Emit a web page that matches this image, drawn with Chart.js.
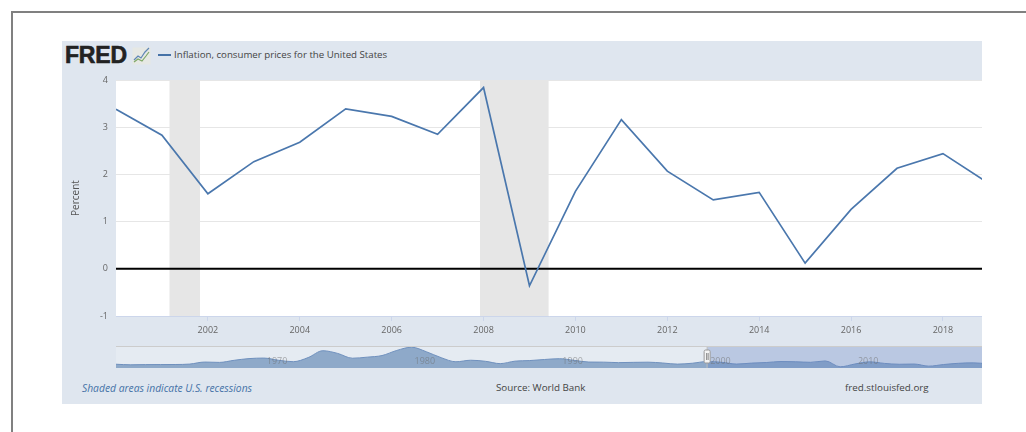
<!DOCTYPE html>
<html>
<head>
<meta charset="utf-8">
<script src="https://cdn.jsdelivr.net/npm/chart.js@4/dist/chart.umd.min.js"></script>
<style>
  html, body { margin: 0; padding: 0; background: #fff; width: 1026px; height: 432px; overflow: hidden; font-family: "Open Sans", sans-serif; }
  .abs { position: absolute; }
  #frame { left: 11px; top: 11px; right: -5px; bottom: -5px; border: 2px solid #808080; }
  #panel { left: 62px; top: 41px; width: 920px; height: 363px; background: #dfe6ef; }
  #logo { left: 65px; top: 42px; font: bold 23px "Liberation Sans", sans-serif; color: #222; -webkit-text-stroke: 0.6px #222; letter-spacing: -0.2px; }
  #icon { left: 132px; top: 47px; }
  #legendLine { left: 158px; top: 54px; width: 13px; height: 2px; background: #4572a7; }
  #legendText { left: 174px; top: 48px; font-size: 9.7px; line-height: 14px; color: #444; white-space: nowrap; }
  #mainWrap { left: 62px; top: 41px; width: 920px; height: 300px; }
  #navWrap { left: 116px; top: 346px; width: 866px; height: 22px; }
  #navTop { left: 116px; top: 346px; width: 866px; height: 1px; background: #ccc; }
  .foot { top: 381px; font-size: 9.8px; line-height: 14px; color: #444; white-space: nowrap; }
  #recNote { left: 82px; font-size: 10.3px; font-style: italic; color: #4572a7; }
  #source { left: 496px; }
  #site { left: 845px; }
</style>
</head>
<body>
<div class="abs" id="frame"></div>
<div class="abs" id="panel"></div>
<div class="abs" id="logo">FRED</div>
<svg class="abs" id="icon" width="19" height="18" viewBox="0 0 19 18">
  <rect x="0.5" y="0.5" width="18" height="17" fill="#e6e8e4"/>
  <polyline points="2,13 6,9 9,11 13,5 17,1" fill="none" stroke="#5f86b5" stroke-width="1.2"/>
  <polyline points="2,15 6,12 10,14 14,9 17,5" fill="none" stroke="#7fa866" stroke-width="1.2"/>
</svg>
<div class="abs" id="legendLine"></div>
<div class="abs" id="legendText">Inflation, consumer prices for the United States</div>
<div class="abs" id="mainWrap"><canvas id="mainChart" width="920" height="300"></canvas></div>
<div class="abs" id="navWrap"><canvas id="navChart" width="866" height="22"></canvas></div>
<div class="abs" id="navTop"></div>
<div class="abs foot" id="recNote">Shaded areas indicate U.S. recessions</div>
<div class="abs foot" id="source">Source: World Bank</div>
<div class="abs foot" id="site">fred.stlouisfed.org</div>

<script>
// main chart data
const years = [2000, 2001, 2002, 2003, 2004, 2005, 2006, 2007, 2008, 2009, 2010, 2011, 2012, 2013, 2014, 2015, 2016, 2017, 2018, 2019];
const inflation = [3.38, 2.83, 1.59, 2.27, 2.68, 3.39, 3.23, 2.85, 3.84, -0.36, 1.64, 3.16, 2.07, 1.46, 1.62, 0.12, 1.26, 2.13, 2.44, 1.81];
const xTickYears = [2002, 2004, 2006, 2008, 2010, 2012, 2014, 2016, 2018];
const recessions = [[2001.16, 2001.83], [2007.92, 2009.42]];

// navigator strip under the chart
const navYears = [1960, 1961, 1962, 1963, 1964, 1965, 1966, 1967, 1968, 1969, 1970, 1971, 1972, 1973, 1974, 1975, 1976, 1977, 1978, 1979, 1980, 1981, 1982, 1983, 1984, 1985, 1986, 1987, 1988, 1989, 1990, 1991, 1992, 1993, 1994, 1995, 1996, 1997, 1998, 1999, 2000, 2001, 2002, 2003, 2004, 2005, 2006, 2007, 2008, 2009, 2010, 2011, 2012, 2013, 2014, 2015, 2016, 2017, 2018, 2019];
const navValues = [1.46, 1.07, 1.2, 1.24, 1.28, 1.59, 3.02, 2.77, 4.27, 5.46, 5.84, 4.29, 3.27, 6.18, 11.05, 9.14, 5.74, 6.5, 7.63, 11.25, 13.55, 10.33, 6.13, 3.21, 4.3, 3.55, 1.9, 3.66, 4.08, 4.83, 5.4, 4.23, 3.03, 2.95, 2.61, 2.81, 2.93, 2.34, 1.55, 2.19, 3.38, 2.83, 1.59, 2.27, 2.68, 3.39, 3.23, 2.85, 3.84, -0.36, 1.64, 3.16, 2.07, 1.46, 1.62, 0.12, 1.26, 2.13, 2.44, 1.81];
const navTickYears = [1970, 1980, 1990, 2000, 2010];

const xMin = 2000, xMax = 2018.85;
const navMin = 1960, navMax = 2018.6;
const navTop = 14.4, navBottom = -1.2;
const tickFont = { family: "'Open Sans', sans-serif", size: 9 };

const plotBackground = {
  id: "plotBackground",
  beforeDraw(chart) {
    const a = chart.chartArea;
    chart.ctx.fillStyle = "#fff";
    chart.ctx.fillRect(a.left, a.top, a.width, a.height);
  }
};

const recessionSets = recessions.map(r => ({
  data: [{ x: r[0], y: 4 }, { x: r[1], y: 4 }],
  borderWidth: 0,
  pointRadius: 0,
  backgroundColor: "#e6e6e6",
  fill: "start",
  order: 3
}));

new Chart(document.getElementById("mainChart"), {
  type: "line",
  plugins: [plotBackground],
  data: {
    datasets: [{
      data: years.map((y, i) => ({ x: y, y: inflation[i] })),
      borderColor: "#4a77ad",
      borderWidth: 1.7,
      pointRadius: 0,
      tension: 0,
      fill: false,
      order: 1
    }, {
      // black zero line, has to sit over the recession bands
      data: [{ x: xMin, y: 0 }, { x: xMax, y: 0 }],
      borderColor: "#000",
      borderWidth: 2,
      pointRadius: 0,
      fill: false,
      order: 2
    }, ...recessionSets]
  },
  options: {
    responsive: false,
    animation: false,
    layout: { padding: { top: 39, right: 0, left: 0, bottom: 0 } },
    plugins: { legend: { display: false }, tooltip: { enabled: false } },
    scales: {
      x: {
        type: "linear",
        min: xMin,
        max: xMax,
        afterBuildTicks: ax => { ax.ticks = xTickYears.map(v => ({ value: v })); },
        afterFit: ax => { ax.height = 25; },
        grid: { drawOnChartArea: false, color: "#ccd6eb", tickLength: 5 },
        border: { color: "#ccd6eb" },
        ticks: { color: "#666", font: tickFont, maxRotation: 0, padding: 4, autoSkip: false, callback: v => String(v) }
      },
      y: {
        min: -1,
        max: 4,
        afterFit: ax => { ax.width = 54; },
        border: { display: false },
        grid: { drawTicks: false, color: "#e6e6e6" },
        ticks: { stepSize: 1, color: "#666", font: tickFont, padding: 8 },
        title: { display: true, text: "Percent", color: "#555", font: { family: "'Open Sans', sans-serif", size: 10 }, padding: { top: 8, bottom: 0 } }
      }
    }
  }
});

// slider handle and the faint year labels over the strip
const navOverlay = {
  id: "navOverlay",
  afterDraw(chart) {
    const ctx = chart.ctx;
    const sx = chart.scales.x;
    const x = sx.getPixelForValue(2000);
    ctx.save();
    ctx.font = "9px 'Open Sans', sans-serif";
    ctx.fillStyle = "rgba(110,110,110,0.55)";
    ctx.textBaseline = "middle";
    navTickYears.forEach(y => ctx.fillText(String(y), sx.getPixelForValue(y) + 3, 15));
    ctx.strokeStyle = "#bbb";
    ctx.beginPath();
    ctx.moveTo(x, 0);
    ctx.lineTo(x, chart.height);
    ctx.stroke();
    ctx.fillStyle = "#f4f4f4";
    ctx.strokeStyle = "#999";
    ctx.beginPath();
    ctx.roundRect(x - 3, 4, 6, 13, 1.5);
    ctx.fill();
    ctx.stroke();
    ctx.strokeStyle = "#888";
    ctx.beginPath();
    ctx.moveTo(x - 0.5, 7);
    ctx.lineTo(x - 0.5, 14);
    ctx.moveTo(x + 1, 7);
    ctx.lineTo(x + 1, 14);
    ctx.stroke();
    ctx.restore();
  }
};

new Chart(document.getElementById("navChart"), {
  type: "line",
  plugins: [navOverlay],
  data: {
    datasets: [{
      data: navYears.map((y, i) => ({ x: y, y: navValues[i] })),
      borderColor: "#6f90bd",
      borderWidth: 1,
      backgroundColor: "rgba(69,114,167,0.55)",
      pointRadius: 0,
      cubicInterpolationMode: "monotone",
      fill: "start",
      order: 2
    }, {
      // selected range
      data: [{ x: 2000, y: navTop }, { x: navMax, y: navTop }],
      borderWidth: 0,
      pointRadius: 0,
      backgroundColor: "rgba(102,133,194,0.3)",
      fill: "start",
      order: 1
    }, {
      // outside the selected range
      data: [{ x: navMin, y: navTop }, { x: 2000, y: navTop }],
      borderWidth: 0,
      pointRadius: 0,
      backgroundColor: "rgba(255,255,255,0.2)",
      fill: "start",
      order: 3
    }]
  },
  options: {
    responsive: false,
    animation: false,
    layout: { padding: 0 },
    plugins: { legend: { display: false }, tooltip: { enabled: false } },
    scales: {
      x: {
        type: "linear",
        min: navMin,
        max: navMax,
        afterFit: ax => { ax.height = 0; },
        grid: { display: false },
        border: { display: false },
        ticks: { display: false }
      },
      y: { display: false, min: navBottom, max: navTop }
    }
  }
});
</script>
</body>
</html>
